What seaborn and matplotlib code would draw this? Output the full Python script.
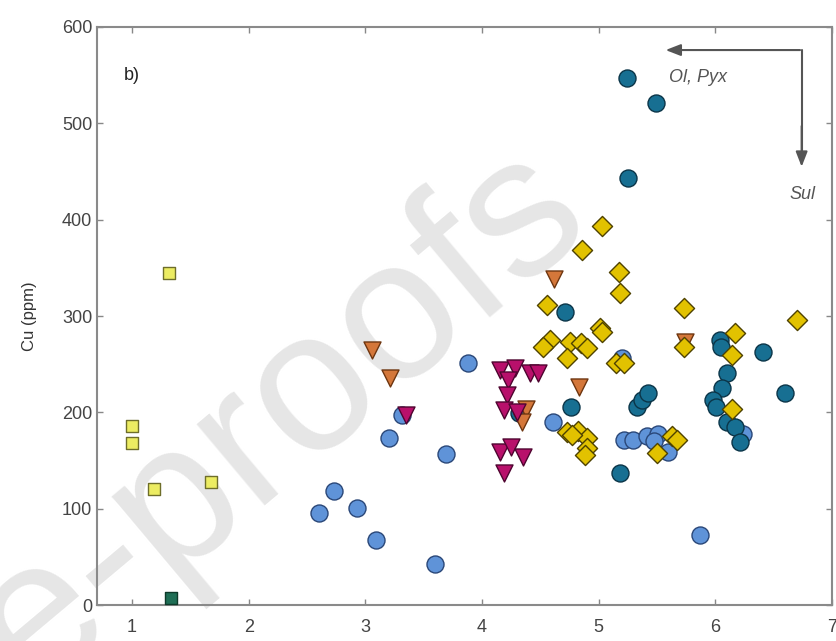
import numpy as np
import pandas as pd
import matplotlib
matplotlib.use("Agg")
import matplotlib.pyplot as plt
import seaborn as sns

# values (x: unlabeled ratio, y: Cu in ppm)
sq_light_x = [1.00, 1.00, 1.19, 1.68, 1.32]
sq_light_y = [186, 168, 120, 128, 345]

sq_dark_x = [1.33]
sq_dark_y = [7]

circ_light_x = [2.60, 2.73, 2.93, 3.09, 3.20, 3.31, 3.88, 3.69, 3.60, 4.61,
                5.22, 5.29, 5.41, 5.51, 5.59, 5.47, 5.87, 6.24, 5.20]
circ_light_y = [96, 118, 101, 68, 173, 197, 251, 157, 43, 190,
                171, 171, 176, 178, 159, 170, 73, 178, 256]

circ_dark_x = [5.24, 5.49, 5.25, 4.71, 4.76, 5.18, 5.33, 5.37, 5.42, 6.41,
               6.60, 6.04, 6.10, 6.06, 5.98, 6.01, 6.10, 6.17, 6.21, 4.32, 6.05]
circ_dark_y = [547, 521, 443, 304, 206, 137, 206, 213, 220, 263,
               220, 275, 241, 225, 213, 206, 190, 185, 169, 199, 268]

tri_orange_x = [3.06, 3.21, 4.62, 4.83, 4.38, 4.34, 5.74]
tri_orange_y = [265, 236, 338, 226, 204, 190, 273]

tri_mag_x = [4.15, 4.28, 4.41, 4.48, 4.22, 4.21, 4.19, 4.15, 4.25, 4.35, 4.19, 3.35, 4.30]
tri_mag_y = [244, 246, 241, 241, 234, 218, 202, 159, 164, 154, 137, 197, 200]

diam_x = [5.03, 4.86, 5.17, 5.18, 4.56, 5.73, 6.70, 5.01, 4.58, 4.52,
          4.75, 4.85, 4.90, 4.73, 5.15, 5.73, 6.17, 6.14, 6.14, 4.73,
          4.82, 4.90, 4.90, 4.88, 4.77, 5.50, 5.63, 5.67, 5.22, 5.03]
diam_y = [393, 369, 346, 324, 311, 308, 296, 288, 275, 268,
          273, 272, 267, 256, 251, 268, 282, 260, 204, 180,
          181, 173, 163, 156, 177, 158, 175, 171, 251, 283]

groups = [
    ("sq_light", sq_light_x, sq_light_y, "s", "#ecec62", "#6e6e2a", 80),
    ("sq_dark", sq_dark_x, sq_dark_y, "s", "#1f6e55", "#0e3a2a", 80),
    ("circ_light", circ_light_x, circ_light_y, "o", "#5f93d8", "#2a4778", 150),
    ("circ_dark", circ_dark_x, circ_dark_y, "o", "#176f92", "#0b3548", 150),
    ("tri_orange", tri_orange_x, tri_orange_y, "v", "#d4773a", "#6e3610", 150),
    ("tri_mag", tri_mag_x, tri_mag_y, "v", "#b8106b", "#4e0530", 150),
    ("diam", diam_x, diam_y, "D", "#e2c200", "#4e4200", 105),
]

rows = []
for name, xs, ys, *_ in groups:
    for x, y in zip(xs, ys):
        rows.append({"group": name, "x": x, "Cu": y})
df = pd.DataFrame(rows)

sns.set_style("ticks")
plt.rcParams["font.family"] = ["Liberation Sans", "DejaVu Sans"]

fig = plt.figure(figsize=(8.37, 6.41), dpi=100)
ax = fig.add_axes([0.116, 0.056, 0.878, 0.902])

# faint watermark behind the data
fig.text(0.712, 0.645, "Journal Pre-proofs", fontsize=144, color="#e6e6e6",
         rotation=40, rotation_mode="anchor", ha="right", va="baseline", zorder=-1)
ax.patch.set_alpha(0)

for name, xs, ys, mk, fc, ec, s in groups:
    sns.scatterplot(data=df[df["group"] == name], x="x", y="Cu", marker=mk,
                    color=fc, edgecolor=ec, linewidth=1.0, s=s, ax=ax,
                    legend=False, zorder=3)

ax.set_xlim(0.7, 7)
ax.set_ylim(0, 600)
ax.set_xticks([1, 2, 3, 4, 5, 6, 7])
ax.set_yticks([0, 100, 200, 300, 400, 500, 600])
ax.set_xlabel("")
ax.set_ylabel("Cu (ppm)", fontsize=12, color="#333333", labelpad=18)
ax.tick_params(direction="in", top=True, right=True, length=4, width=1,
               color="#888888", labelcolor="#444444", labelsize=13)
ax.tick_params(axis="x", pad=10)
for sp in ax.spines.values():
    sp.set_color("#8a8a8a")
    sp.set_linewidth(1.5)

ax.text(0.93, 550, "b)", fontsize=13, color="#222222", ha="left", va="center")

# process arrows
arr = dict(arrowstyle="-|>,head_length=0.9,head_width=0.35", color="#555555", lw=1.5)
ax.plot([6.74, 6.74], [576, 470], color="#555555", lw=1.5)
ax.annotate("", xy=(5.55, 576), xytext=(6.75, 576), arrowprops=arr)
ax.annotate("", xy=(6.74, 452), xytext=(6.74, 500), arrowprops=arr)
ax.text(5.6, 548, "Ol, Pyx", fontsize=13, style="italic", color="#555555",
        ha="left", va="center")
ax.text(6.86, 426, "Sul", fontsize=13, style="italic", color="#555555",
        ha="right", va="center")

fig.savefig("out.png", dpi=100)
